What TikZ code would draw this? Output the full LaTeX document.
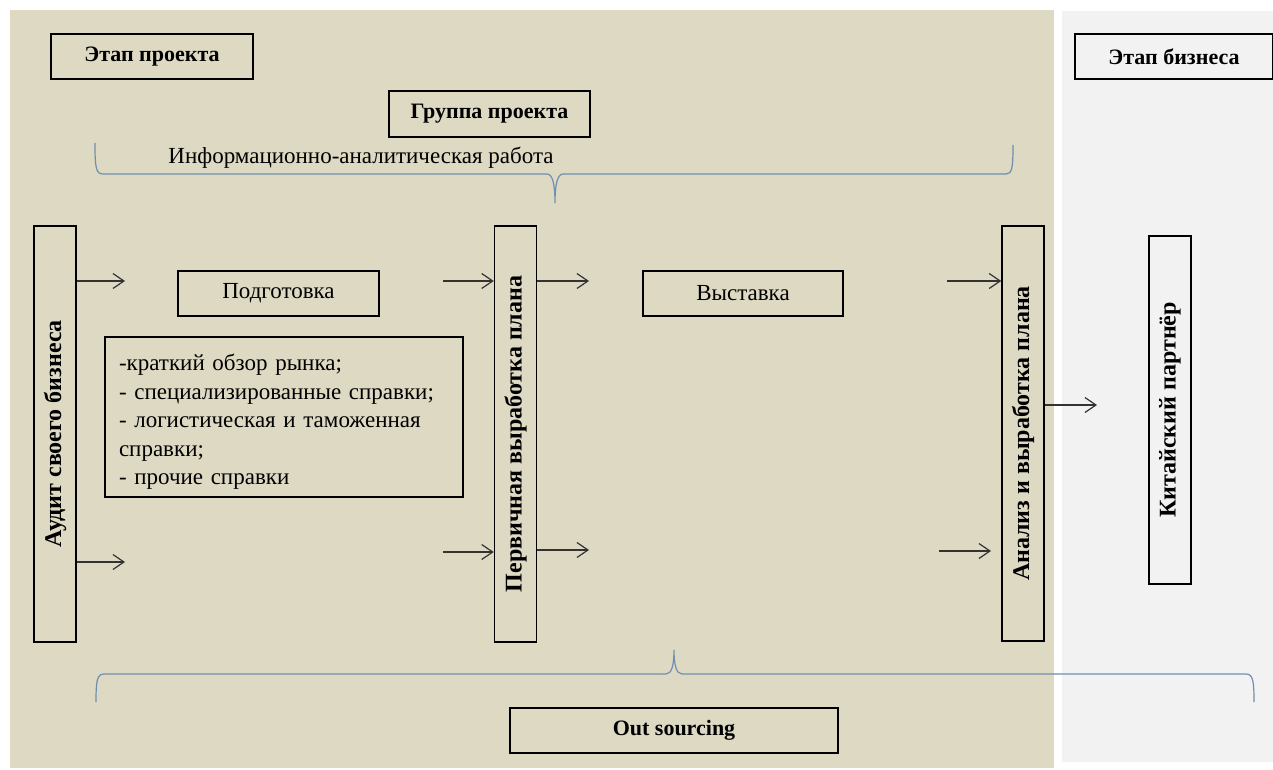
\documentclass[tikz,border=0pt]{standalone}
\usepackage{fontspec}
\setmainfont{Liberation Serif}
\usepackage{graphicx}
\usetikzlibrary{positioning,arrows.meta}
\definecolor{projbg}{HTML}{DDD9C3}
\definecolor{busbg}{HTML}{F2F2F2}
\definecolor{bracecol}{HTML}{6F8FB0}
\definecolor{arrowcol}{HTML}{333333}
\tikzset{%
	>={Straight Barb[length=11pt,width=15pt]},
	inner sep=0pt,%
	stagebox/.style={draw=black,line width=1.5pt,font=\fontsize{22}{26}\selectfont\bfseries},
	plainbox/.style={draw=black,line width=1.5pt,font=\fontsize{23}{28.5}\selectfont},
	vertbox/.style={draw=black,line width=1.5pt,minimum width=42pt,font=\fontsize{24}{28}\selectfont\bfseries},
	flow/.style={->,arrowcol,line width=1.2pt},
	bracepath/.style={bracecol,line width=1.2pt}
}

\begin{document}
\begin{tikzpicture}[x=1pt,y=-1pt]
	%% frame and backgrounds
	\useasboundingbox (0,0) rectangle (1273,770);
	\fill[projbg] (10,10) rectangle (1054,768); % project stage
	\fill[busbg] (1062,11) rectangle (1273,762); % business stage
	
	%% headers
	\node[stagebox,minimum width=202pt,minimum height=45pt] (projstage) at (152,56.5) {Этап проекта};
	\node[stagebox,minimum width=201pt,minimum height=46pt] (team) at (489.5,114) {Группа проекта};
	\node[stagebox,minimum width=198pt,minimum height=45pt] (busstage) at (1174,56.5) {Этап бизнеса};
	\node[font=\fontsize{23}{28}\selectfont] (info) at (361,158) {Информационно-аналитическая работа};
	
	%% vertical boxes
	\node[vertbox,minimum height=416pt] (audit) at (55,434) {\rotatebox{90}{Аудит своего бизнеса}};
	\node[vertbox,minimum height=416pt] (perv) at (515.5,434) {\rotatebox{90}{Первичная выработка плана}};
	\node[vertbox,minimum height=415pt] (analiz) at (1023,433.5) {\rotatebox{90}{Анализ и выработка плана}};
	\node[vertbox,minimum height=348pt] (partner) at (1170,410) {\rotatebox{90}{Китайский партнёр}};
	
	%% middle boxes
	\node[plainbox,minimum width=201pt,minimum height=45pt] (prep) at (278.5,293.5) {Подготовка};
	\node[plainbox,minimum width=200pt,minimum height=45pt] (expo) at (743,293.5) {Выставка};
	\node[plainbox,minimum width=358pt,minimum height=160pt,text width=330pt,align=left] (notes) at (284,417)
	{\rule{0pt}{26pt}-краткий обзор рынка;\\- специализированные справки;\\- логистическая и таможенная\\справки;\\- прочие справки};
	\node[stagebox,minimum width=328pt,minimum height=45pt] (outsrc) at (674,730.5) {Out sourcing};
	
	%% free arrow ends
	\coordinate (a1) at (125,281);
	\coordinate (a2) at (125,562);
	\coordinate (p1in) at (443,281);
	\coordinate (p2in) at (443,552);
	\coordinate (p1out) at (589,281);
	\coordinate (p2out) at (589,550);
	\coordinate (v1in) at (947,281);
	\coordinate (v2in) at (939,551);
	\coordinate (v2tip) at (991,551);
	\coordinate (kout) at (1097,405);
	
	%% arrows
	\draw[flow] (audit.east |- a1) -- (a1);
	\draw[flow] (audit.east |- a2) -- (a2);
	\draw[flow] (p1in) -- (perv.west |- p1in);
	\draw[flow] (p2in) -- (perv.west |- p2in);
	\draw[flow] (perv.east |- p1out) -- (p1out);
	\draw[flow] (perv.east |- p2out) -- (p2out);
	\draw[flow] (v1in) -- (analiz.west |- v1in);
	\draw[flow] (v2in) -- (v2tip);
	\draw[flow] (analiz.east |- kout) -- (kout);
	
	%% braces
	\draw[bracepath] (95,143) .. controls (95,168) and (96,174) .. (103,174) -- (547,174)
	.. controls (553,174) and (555,186) .. (555,203) .. controls (555,186) and (557,174) .. (563,174)
	-- (1006,174) .. controls (1012,174) and (1013,168) .. (1013,145);
	\draw[bracepath] (96,702) .. controls (96,681) and (97,674) .. (104,674) -- (666,674)
	.. controls (672,674) and (674,664) .. (674,650) .. controls (674,664) and (676,674) .. (682,674)
	-- (1246,674) .. controls (1253,674) and (1254,681) .. (1254,702);
\end{tikzpicture}
\end{document}
